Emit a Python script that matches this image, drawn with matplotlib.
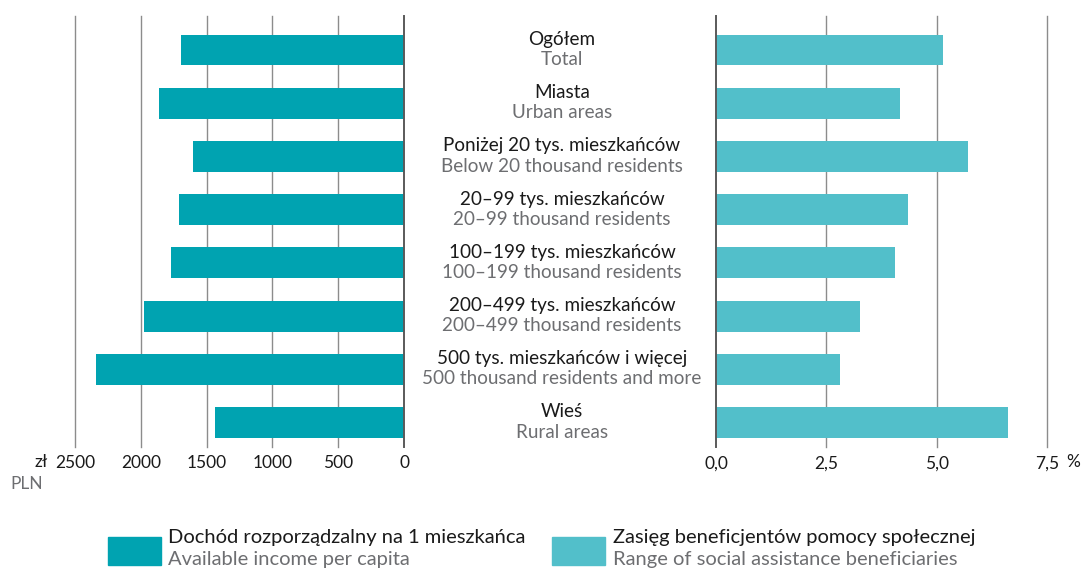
import matplotlib
matplotlib.use('Agg')
import matplotlib.pyplot as plt
import matplotlib.transforms as mtransforms
from matplotlib.patches import Rectangle

plt.rcParams['font.family'] = ['Lato', 'DejaVu Sans']

# data
labels_pl = ['Ogółem', 'Miasta', 'Poniżej 20 tys. mieszkańców', '20–99 tys. mieszkańców',
             '100–199 tys. mieszkańców', '200–499 tys. mieszkańców',
             '500 tys. mieszkańców i więcej', 'Wieś']
labels_en = ['Total', 'Urban areas', 'Below 20 thousand residents', '20–99 thousand residents',
             '100–199 thousand residents', '200–499 thousand residents',
             '500 thousand residents and more', 'Rural areas']
income = [1694, 1862, 1603, 1710, 1771, 1976, 2340, 1436]
beneficiaries = [5.14, 4.17, 5.71, 4.35, 4.06, 3.26, 2.81, 6.62]
income_ticks = [2500, 2000, 1500, 1000, 500, 0]
benef_ticks = [0, 2.5, 5, 7.5]
benef_ticklabels = ['0,0', '2,5', '5,0', '7,5']

dark = '#00a3b1'
light = '#52bfca'
black = '#1a1a1a'
gray = '#6d6e71'

W, H = 1082, 570
fig = plt.figure(figsize=(W / 100, H / 100), dpi=100)

def box(x0, x1, ytop, ybot):
    return [x0 / W, 1 - ybot / H, (x1 - x0) / W, (ybot - ytop) / H]

ax1 = fig.add_axes(box(75, 404, 16, 447))
ax2 = fig.add_axes(box(716, 1047, 16, 447))
pos = list(range(len(labels_pl)))

for ax, vals, col in [(ax1, income, dark), (ax2, beneficiaries, light)]:
    ax.barh(pos, vals, height=0.58, color=col, zorder=3)
    ax.set_ylim(7.46, -0.64)
    ax.set_yticks([])
    for s in ax.spines.values():
        s.set_visible(False)
    ax.tick_params(axis='x', length=0, labelsize=12.5, labelcolor=black, pad=6)
    ax.set_axisbelow(True)

ax1.set_xlim(2500, 0)
ax1.set_xticks(income_ticks)
ax1.set_xticklabels([str(t) for t in income_ticks])

ax2.set_xlim(0, 7.5)
ax2.set_xticks(benef_ticks)
ax2.set_xticklabels(benef_ticklabels)

for ax, ticks in [(ax1, income_ticks), (ax2, benef_ticks)]:
    for t in ticks:
        if t == 0:
            ax.axvline(t, color='#5a5a5a', linewidth=1.4, zorder=4, clip_on=False)
        else:
            ax.axvline(t, color='#8c8c8c', linewidth=1, zorder=1, clip_on=False)

# category labels between the panels
tr = mtransforms.blended_transform_factory(fig.transFigure, ax1.transData)
for i, (pl, en) in enumerate(zip(labels_pl, labels_en)):
    fig.text(562 / W, i - 0.2, pl, transform=tr, ha='center', va='center',
             fontsize=13.6, color=black)
    fig.text(562 / W, i + 0.18, en, transform=tr, ha='center', va='center',
             fontsize=13.6, color=gray)

# units
fig.text(48 / W, 1 - 462 / H, 'zł', ha='right', va='center', fontsize=12.5, color=black)
fig.text(10 / W, 1 - 484 / H, 'PLN', ha='left', va='center', fontsize=12.5, color=gray)
fig.text(1066 / W, 1 - 462 / H, '%', ha='left', va='center', fontsize=12.5, color=black)

# legend
fig.patches.append(Rectangle((108 / W, 1 - 565 / H), 53 / W, 28 / H,
                             transform=fig.transFigure, color=dark))
fig.patches.append(Rectangle((552 / W, 1 - 565 / H), 53 / W, 28 / H,
                             transform=fig.transFigure, color=light))
fig.text(168 / W, 1 - 537 / H, 'Dochód rozporządzalny na 1 mieszkańca', va='center',
         fontsize=14.5, color=black)
fig.text(168 / W, 1 - 559 / H, 'Available income per capita', va='center',
         fontsize=14.5, color=gray)
fig.text(613 / W, 1 - 537 / H, 'Zasięg beneficjentów pomocy społecznej', va='center',
         fontsize=14.5, color=black)
fig.text(613 / W, 1 - 559 / H, 'Range of social assistance beneficiaries', va='center',
         fontsize=14.5, color=gray)

plt.savefig('out.png', dpi=100)
